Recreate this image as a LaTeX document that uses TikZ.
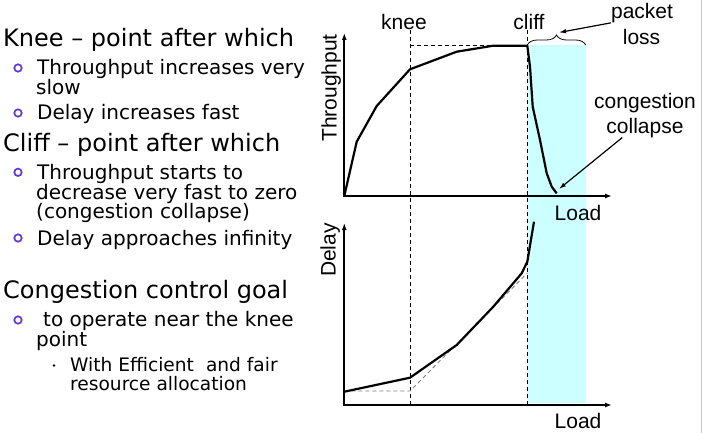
\documentclass[tikz,border=0pt]{standalone}
\usepackage{fontspec}
\usetikzlibrary{arrows.meta,decorations.pathreplacing}
\newfontfamily\slidefont{DejaVu Sans}
\newfontfamily\plotfont{Liberation Sans}
\definecolor{bulletpurple}{HTML}{6038E0}
\definecolor{lossband}{HTML}{CCFFFF}

\begin{document}
\begin{tikzpicture}[x = 1pt, y = -1pt,
  lvlone/.style = {anchor = base west, inner sep = 0pt, font = \slidefont\fontsize{24}{28}\selectfont},
  lvltwo/.style = {anchor = base west, inner sep = 0pt, font = \slidefont\fontsize{20}{24}\selectfont},
  lvlthree/.style = {anchor = base west, inner sep = 0pt, font = \slidefont\fontsize{18.6}{22}\selectfont},
  plotlbl/.style = {anchor = base, inner sep = 0pt, font = \plotfont\fontsize{21}{25}\selectfont},
  plotaxis/.style = {line width = 2pt, {Latex[length = 7pt, width = 5pt]}-{Latex[length = 7pt, width = 5pt]}},
  curve/.style = {line width = 2.2pt, line join = round},
  guide/.style = {line width = 0.9pt, dash pattern = on 4pt off 3pt},
  ideal/.style = {line width = 0.9pt, gray, dash pattern = on 4pt off 3pt},
  lblarrow/.style = {line width = 1.2pt, -{Latex[length = 7pt, width = 4.5pt]}},
  ring/.style = {draw = bulletpurple, line width = 1.7pt}]
\useasboundingbox (0, 0) rectangle (703, 433);
\draw[gray!45, line width = 1pt] (701, 0) -- (701, 433);

% loss region
\fill[lossband] (527.3, 45.5) rectangle (585.7, 403);

% left column text
\node[lvlone] (kneehead) at (3, 46.7) {Knee – point after which};
\node[lvltwo] (knee1) at (37, 75) {Throughput increases very};
\node[lvltwo] (knee1b) at (36, 95) {slow};
\node[lvltwo] (knee2) at (37, 120) {Delay increases fast};
\node[lvlone] (cliffhead) at (3, 151.7) {Cliff – point after which};
\node[lvltwo] (cliff1) at (37, 179.3) {Throughput starts to};
\node[lvltwo] (cliff1b) at (36, 199.3) {decrease very fast to zero};
\node[lvltwo] (cliff1c) at (36, 218.5) {(congestion collapse)};
\node[lvltwo] (cliff2) at (37, 245) {Delay approaches infinity};
\node[lvlone] (goalhead) at (3, 298.3) {Congestion control goal};
\node[lvltwo] (goal1) at (43, 326.7) {to operate near the knee};
\node[lvltwo] (goal1b) at (36, 346.7) {point};
\node[lvlthree] (goal2) at (70, 371.7) {With Efficient\hspace{12pt}and fair};
\node[lvlthree] (goal2b) at (70, 390) {resource allocation};
\foreach \by in {68, 113, 172.3, 238, 320}
  \draw[ring] (18, \by) circle [radius = 3.7];
\fill (54, 365.5) circle [radius = 1.4];

% plot labels
\node[plotlbl] (knee) at (404, 30) {knee};
\node[plotlbl] (cliff) at (529, 30) {cliff};
\node[plotlbl] (pktlbl) at (642, 18.3) {packet};
\node[plotlbl] (losslbl) at (641.5, 45) {loss};
\node[plotlbl] (conglbl) at (645, 108) {congestion};
\node[plotlbl] (colllbl) at (645, 133) {collapse};
\node[plotlbl] (loadtop) at (578, 220) {Load};
\node[plotlbl] (loadbot) at (578, 428) {Load};
\node[plotlbl, rotate = 90] (throughput) at (336.5, 88) {Throughput};
\node[plotlbl, rotate = 90] (delay) at (335.5, 250) {Delay};

% axes
\coordinate (tporig) at (344.3, 196);
\coordinate (dlorig) at (344.3, 405);
\draw[plotaxis] (344.3, 33) -- (tporig) -- (612, 196);
\draw[plotaxis] (344.3, 223) -- (dlorig) -- (612, 405);

% knee and cliff
\coordinate (kp) at (410, 69.3);
\coordinate (cp) at (527.3, 45.7);
\draw[guide] (kp |- knee.south) -- (kp |- 0, 408);
\draw[guide] (cp |- cliff.south) -- (cp |- 0, 408);
\draw[guide] (kp |- cp) -- (cp);

% curves
\draw[curve] (tporig) -- (356.7, 141.7) -- (376.7, 106) -- (kp) -- (456.7, 51.7) -- (493.3, 45.7) -- (cp)
  -- (530, 66.7) -- (532.7, 106.7) -- (540, 140) -- (546.7, 173.3) -- (551.7, 186.7) -- (556.7, 193.3);
\draw[ideal] (344.3, 391) -- (410, 391) -- (527.3, 273);
\draw[curve] (344.3, 391.7) -- (410, 377.7) -- (456.7, 345) -- (493.3, 306.7) -- (521.7, 273.3)
  -- (527.3, 261.7) -- (534, 221.7);

% brace and pointers
\draw[decorate, decoration = {brace, amplitude = 10pt}, line width = 0.8pt] (527.3, 45) -- (585.7, 45);
\coordinate (bracetip) at (559, 32.5);
\coordinate (collapsept) at (559, 189);
\draw[lblarrow, black] (pktlbl.south west) -- (bracetip);
\draw[lblarrow] ([xshift = 16pt]colllbl.south west) -- (collapsept);
\end{tikzpicture}
\end{document}
